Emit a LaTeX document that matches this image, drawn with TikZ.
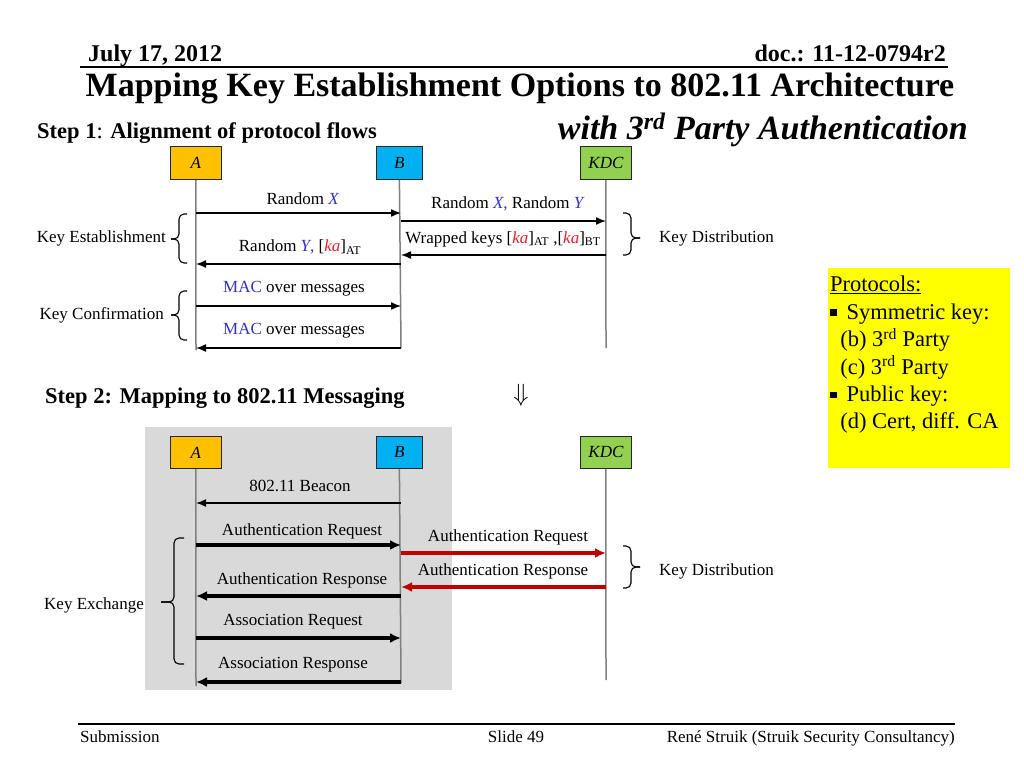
\documentclass[tikz,border=0pt]{standalone}
\usepackage{fontspec}
\setmainfont{Liberation Serif}
\usetikzlibrary{arrows.meta}
\definecolor{colA}{HTML}{FFC000}
\definecolor{colB}{HTML}{00B0F0}
\definecolor{colK}{HTML}{92D050}
\definecolor{blu}{HTML}{3333CC}
\definecolor{rdk}{HTML}{E8202A}
\definecolor{darkred}{HTML}{C00000}
\definecolor{gbg}{HTML}{D9D9D9}
\definecolor{life}{HTML}{808080}
\definecolor{yel}{HTML}{FFFF00}
% brace: #1 hook x, #2 vertical x, #3 tip x, #4 top y, #5 mid y, #6 bottom y
\newcommand\mybrace[6]{%
  \draw[brc] (#1,#4) -- (#2,#4) -- (#2,#5) -- (#3,#5);
  \draw[brc] (#1,#6) -- (#2,#6) -- (#2,#5) -- (#3,#5);}
\newcommand\sqbul{\raisebox{0.16em}{\rule{0.28em}{0.28em}}\hspace{0.45em}}
\begin{document}
\begin{tikzpicture}[x=1pt,y=-1pt,
 actor/.style={draw=black!85, line width=0.8pt, minimum width=51pt, minimum height=33pt, inner sep=0pt, anchor=north west, font=\fontsize{17}{20}\selectfont\itshape},
 lifeline/.style={draw=life, line width=1.5pt},
 msg/.style={line width=1.4pt, -{Latex[length=10pt,width=8pt]}},
 bigmsg/.style={line width=3.2pt, -{Latex[length=11pt,width=10pt]}},
 redmsg/.style={bigmsg, draw=darkred},
 lbl/.style={font=\fontsize{17}{20}\selectfont, inner sep=0pt},
 brc/.style={line width=1.1pt, rounded corners=5pt},
]
\useasboundingbox[fill=white] (0,0) rectangle (1024,768);

% header
\node[anchor=base west, inner sep=0pt, font=\fontsize{24}{28}\selectfont\bfseries] (date) at (88,61) {July 17, 2012};
\node[anchor=base east, inner sep=0pt, font=\fontsize{24}{28}\selectfont\bfseries] (doc) at (946,61) {doc.: 11-12-0794r2};
\coordinate (hl1) at (80,67); \coordinate (hl2) at (948,67);
\draw[line width=1.5pt] (hl1) -- (hl2);
\node[inner sep=0pt, font=\fontsize{34}{40}\selectfont\bfseries] (title) at (520,88) {Mapping Key Establishment Options to 802.11 Architecture};
\node[anchor=base east, inner sep=0pt, font=\fontsize{34}{40}\selectfont\bfseries\itshape] (sub) at (968,139) {with 3\textsuperscript{rd} Party Authentication};
\node[anchor=base west, inner sep=0pt, font=\fontsize{22.5}{26}\selectfont] (step1) at (37,138) {\textbf{Step 1}: \textbf{Alignment of protocol flows}};

% ---------- Step 1 ----------
\node[actor, fill=colA] (A1) at (170,146) {A};
\node[actor, fill=colB, minimum width=46pt] (B1) at (376,146) {B};
\node[actor, fill=colK] (K1) at (580,146) {KDC};
\coordinate (A1e) at (196,350); \coordinate (B1e) at (401,348); \coordinate (K1e) at (606,348);
\draw[lifeline] (A1.south) -- (A1e);
\draw[lifeline] (B1.south) -- (B1e);
\draw[lifeline] (K1.south) -- (K1e);

\coordinate (a1) at (196,213); \coordinate (b1) at (401,213);
\coordinate (b2) at (401,221); \coordinate (k2) at (606,221);
\coordinate (k3) at (606,255); \coordinate (b3) at (401,255);
\coordinate (b4) at (401,264); \coordinate (a4) at (196,264);
\coordinate (a5) at (196,306); \coordinate (b5) at (401,306);
\coordinate (b6) at (401,348); \coordinate (a6) at (196,348);
\draw[msg] (a1) -- (b1);
\draw[msg] (b2) -- (k2);
\draw[msg] (k3) -- (b3);
\draw[msg] (b4) -- (a4);
\draw[msg] (a5) -- (b5);
\draw[msg] (b6) -- (a6);
\node[lbl] (l1) at (303,199) {Random \textcolor{blu}{\textit{X}}};
\node[lbl] (l2) at (508,204) {Random \textcolor{blu}{\textit{X},} Random \textcolor{blu}{\textit{Y}}};
\node[lbl] (l3) at (503,239) {Wrapped keys [\textcolor{rdk}{\textit{ka}}]\textsubscript{AT} ,[\textcolor{rdk}{\textit{ka}}]\textsubscript{BT}};
\node[lbl] (l4) at (300,247) {Random \textcolor{blu}{\textit{Y},} [\textcolor{rdk}{\textit{ka}}]\textsubscript{AT}};
\node[lbl] (l5) at (294,289) {\textcolor{blu}{MAC} over messages};
\node[lbl] (l6) at (294,331) {\textcolor{blu}{MAC} over messages};

\mybrace{187}{179}{171}{214}{239}{263}
\node[lbl, anchor=east] (ke) at (166,238) {Key Establishment};
\mybrace{187}{179}{171}{291}{315}{340}
\node[lbl, anchor=east] (kc) at (164,315) {Key Confirmation};
\mybrace{623}{631}{640}{213}{238}{255}
\node[lbl, anchor=west] (kd1) at (659,238) {Key Distribution};

% yellow box
\node[draw=none, fill=yel, minimum width=182pt, minimum height=200pt, anchor=north west, inner sep=0pt] (ybox) at (828,268) {};
\node[anchor=north west, inner sep=0pt, align=left, font=\fontsize{22.5}{27.4}\selectfont] (ytext) at (830,276) {\underline{Protocols:}\\\sqbul Symmetric key:\\\hspace*{0.45em}(b) 3\textsuperscript{rd} Party\\\hspace*{0.45em}(c) 3\textsuperscript{rd} Party\\\sqbul Public key:\\\hspace*{0.45em}(d) Cert, diff. CA};

% ---------- Step 2 ----------
\node[anchor=base west, inner sep=0pt, font=\fontsize{22.5}{26}\selectfont\bfseries] (step2) at (45,403) {Step 2: Mapping to 802.11 Messaging};
\node[inner sep=0pt, font=\fontsize{24}{28}\selectfont] (darr) at (521,395) {$\Downarrow$};

\fill[gbg] (145,427) rectangle (452,690);
\node[actor, fill=colA, minimum height=32pt] (A2) at (170,436) {A};
\node[actor, fill=colB, minimum width=46pt, minimum height=32pt] (B2) at (376,436) {B};
\node[actor, fill=colK, minimum height=32pt] (K2) at (580,436) {KDC};
\coordinate (A2e) at (196,686); \coordinate (B2e) at (401,683); \coordinate (K2e) at (606,680);
\draw[lifeline] (A2.south) -- (A2e);
\draw[lifeline] (B2.south) -- (B2e);
\draw[lifeline] (K2.south) -- (K2e);

\coordinate (s1b) at (401,503); \coordinate (s1a) at (196,503);
\coordinate (s2a) at (196,545); \coordinate (s2b) at (401,545);
\coordinate (s3b) at (401,553); \coordinate (s3k) at (606,553);
\coordinate (s4k) at (606,587); \coordinate (s4b) at (401,587);
\coordinate (s5b) at (401,596); \coordinate (s5a) at (196,596);
\coordinate (s6a) at (196,638); \coordinate (s6b) at (401,638);
\coordinate (s7b) at (401,682); \coordinate (s7a) at (196,682);
\draw[msg] (s1b) -- (s1a);
\draw[bigmsg] (s2a) -- (s2b);
\draw[redmsg] (s3b) -- (s3k);
\draw[redmsg] (s4k) -- (s4b);
\draw[bigmsg] (s5b) -- (s5a);
\draw[bigmsg] (s6a) -- (s6b);
\draw[bigmsg] (s7b) -- (s7a);
\node[lbl] (m1) at (300,486) {802.11 Beacon};
\node[lbl] (m2) at (302,531) {Authentication Request};
\node[lbl] (m3) at (508,537) {Authentication Request};
\node[lbl] (m4) at (503,571) {Authentication Response};
\node[lbl] (m5) at (302,580) {Authentication Response};
\node[lbl] (m6) at (293,622) {Association Request};
\node[lbl] (m7) at (293,665) {Association Response};

\mybrace{184}{174}{161}{538}{602}{664}
\node[lbl, anchor=east] (kx) at (144,605) {Key Exchange};
\mybrace{623}{631}{640}{546}{567}{588}
\node[lbl, anchor=west] (kd2) at (659,571) {Key Distribution};

% footer
\coordinate (fl1) at (78,724); \coordinate (fl2) at (955,724);
\draw[line width=1.8pt] (fl1) -- (fl2);
\node[anchor=base west, inner sep=0pt, font=\fontsize{17}{20}\selectfont] (sbm) at (80,742) {Submission};
\node[anchor=base, inner sep=0pt, font=\fontsize{17}{20}\selectfont] (sld) at (516,742) {Slide 49};
\node[anchor=base east, inner sep=0pt, font=\fontsize{17}{20}\selectfont] (auth) at (955,742) {René Struik (Struik Security Consultancy)};
\end{tikzpicture}
\end{document}
